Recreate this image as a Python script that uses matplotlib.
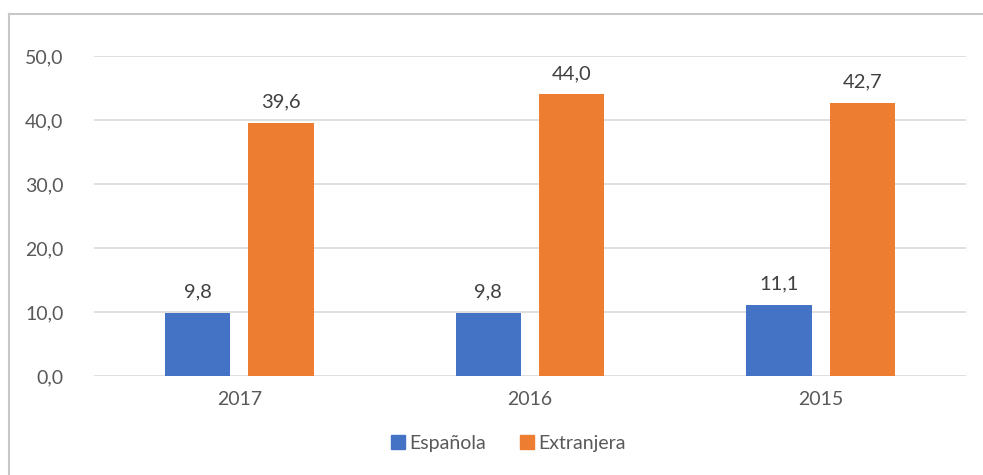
import matplotlib
matplotlib.use("Agg")
import matplotlib.pyplot as plt
from matplotlib.lines import Line2D
import numpy as np

categories = ["2017", "2016", "2015"]
espanola = [9.8, 9.8, 11.1]
extranjera = [39.6, 44.0, 42.7]
series_names = ["Española", "Extranjera"]
yticks = [0, 10, 20, 30, 40, 50]

W, H = 983, 475
fig = plt.figure(figsize=(W / 100, H / 100), dpi=100)
plt.rcParams['font.family'] = ['Lato', 'DejaVu Sans']

# plot area: x 94..966, y 56..376 (pixels)
ax = fig.add_axes([94 / W, 1 - 376 / H, (966 - 94) / W, (376 - 56) / H])

x = np.arange(len(categories))
bw = 0.225
off = 0.143
blue = "#4472C4"
orange = "#ED7D31"
b1 = ax.bar(x - off, espanola, bw, color=blue, zorder=3)
b2 = ax.bar(x + off, extranjera, bw, color=orange, zorder=3)

for bars, vals in ((b1, espanola), (b2, extranjera)):
    for r, v in zip(bars, vals):
        ax.annotate(f"{v:.1f}".replace(".", ","),
                    (r.get_x() + r.get_width() / 2, v),
                    xytext=(0, 9), textcoords="offset points",
                    ha="center", va="bottom", fontsize=14.5, color="#404040")

ax.set_xlim(-0.5, len(categories) - 0.5)
ax.set_ylim(0, 50)
ax.set_yticks(yticks)
ax.set_yticklabels([f"{t:.1f}".replace(".", ",") for t in yticks])
ax.set_xticks(x)
ax.set_xticklabels(categories)
ax.tick_params(axis="both", length=0, labelsize=14, labelcolor="#595959")
ax.tick_params(axis="y", pad=22)
ax.tick_params(axis="x", pad=11)
ax.grid(axis="y", color="#d9d9d9", linewidth=1.2, zorder=0)
for s in ax.spines.values():
    s.set_visible(False)

handles = [Line2D([], [], marker="s", linestyle="", markersize=10, color=blue),
           Line2D([], [], marker="s", linestyle="", markersize=10, color=orange)]
fig.legend(handles, series_names, loc="center", bbox_to_anchor=(507 / W, 1 - 443 / H),
           ncol=2, frameon=False, fontsize=14, labelcolor="#595959",
           handletextpad=0.1, columnspacing=1.6, handlelength=1.0)

# outer chart border (top and left visible in the crop)
fig.add_artist(Line2D([9 / W, 1], [1 - 14 / H, 1 - 14 / H], color="#c8c8c8", linewidth=1.5))
fig.add_artist(Line2D([9 / W, 9 / W], [0, 1 - 14 / H], color="#c8c8c8", linewidth=1.5))

fig.savefig("out.png", dpi=100)
